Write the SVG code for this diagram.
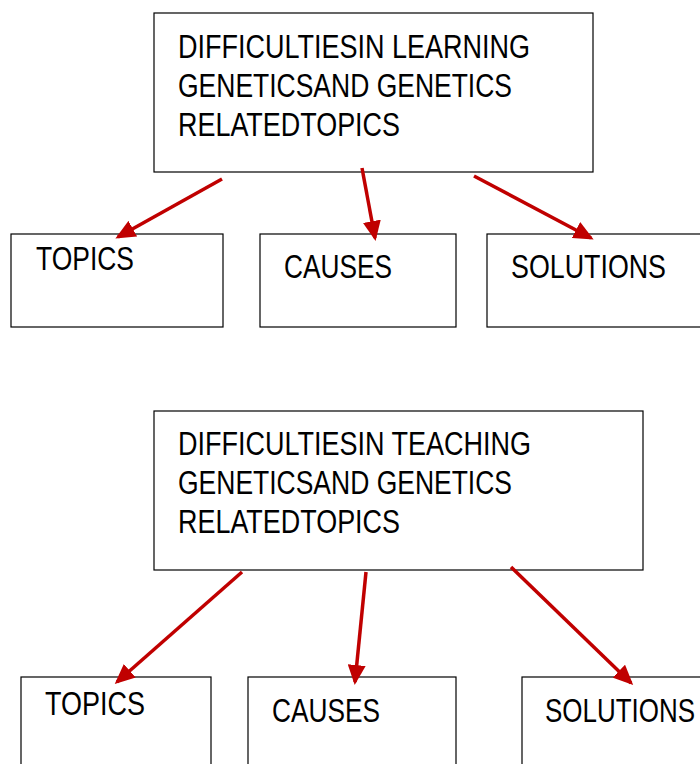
<svg xmlns="http://www.w3.org/2000/svg" width="700" height="764" viewBox="0 0 700 764">
<style>
.box{fill:#fff;stroke:#000;stroke-width:1.2}
.t{font-family:"Liberation Sans",Arial,sans-serif;font-size:32.5px;fill:#000}
.c{stroke:#c00000;stroke-width:3.5;fill:none}
</style>
<defs>
<marker id="ah" markerUnits="userSpaceOnUse" markerWidth="20" markerHeight="18" refX="17" refY="9" orient="auto">
<path d="M0,0 L20,9 L0,18 Z" fill="#c00000"/>
</marker>
</defs>
<rect width="700" height="764" fill="#fff"/>
<g id="learning">
<rect class="box" x="154" y="13" width="439" height="159"/>
<text class="t" x="178" y="58" textLength="352" lengthAdjust="spacingAndGlyphs">DIFFICULTIESIN LEARNING</text>
<text class="t" x="178" y="97" textLength="334" lengthAdjust="spacingAndGlyphs">GENETICSAND GENETICS</text>
<text class="t" x="178" y="136" textLength="222" lengthAdjust="spacingAndGlyphs">RELATEDTOPICS</text>
</g>
<g id="topics1">
<rect class="box" x="11" y="234" width="212" height="93"/>
<text class="t" x="36" y="270" textLength="98" lengthAdjust="spacingAndGlyphs">TOPICS</text>
</g>
<g id="causes1">
<rect class="box" x="260" y="234" width="196" height="93"/>
<text class="t" x="284" y="278" textLength="108" lengthAdjust="spacingAndGlyphs">CAUSES</text>
</g>
<g id="solutions1">
<rect class="box" x="487" y="234" width="220" height="93"/>
<text class="t" x="511" y="278" textLength="155" lengthAdjust="spacingAndGlyphs">SOLUTIONS</text>
</g>
<g id="teaching">
<rect class="box" x="154" y="411" width="489" height="159"/>
<text class="t" x="178" y="455" textLength="353" lengthAdjust="spacingAndGlyphs">DIFFICULTIESIN TEACHING</text>
<text class="t" x="178" y="494" textLength="334" lengthAdjust="spacingAndGlyphs">GENETICSAND GENETICS</text>
<text class="t" x="178" y="533" textLength="222" lengthAdjust="spacingAndGlyphs">RELATEDTOPICS</text>
</g>
<g id="topics2">
<rect class="box" x="21" y="677" width="190" height="100"/>
<text class="t" x="45" y="715" textLength="100" lengthAdjust="spacingAndGlyphs">TOPICS</text>
</g>
<g id="causes2">
<rect class="box" x="248" y="677" width="208" height="100"/>
<text class="t" x="272" y="722" textLength="108" lengthAdjust="spacingAndGlyphs">CAUSES</text>
</g>
<g id="solutions2">
<rect class="box" x="522" y="677" width="190" height="100"/>
<text class="t" x="545" y="722" textLength="150" lengthAdjust="spacingAndGlyphs">SOLUTIONS</text>
</g>
<g id="connectors">
<line class="c" x1="222" y1="179" x2="118" y2="237" marker-end="url(#ah)"/>
<line class="c" x1="362" y1="168" x2="375" y2="238" marker-end="url(#ah)"/>
<line class="c" x1="474" y1="176" x2="591" y2="238" marker-end="url(#ah)"/>
<line class="c" x1="242" y1="572" x2="117" y2="682" marker-end="url(#ah)"/>
<line class="c" x1="366" y1="572" x2="355" y2="682" marker-end="url(#ah)"/>
<line class="c" x1="511" y1="567" x2="631" y2="683" marker-end="url(#ah)"/>
</g>
</svg>
